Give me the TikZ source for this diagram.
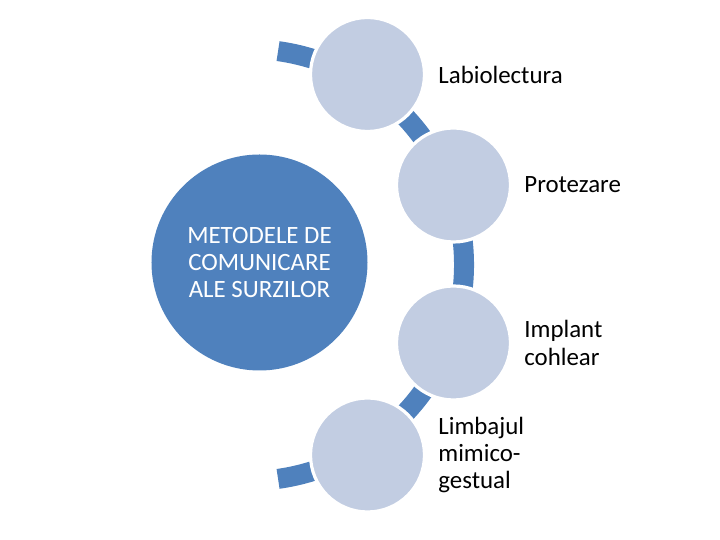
\documentclass[tikz,border=0pt]{standalone}
\usepackage{fontspec}
\setmainfont{Carlito}
\usepackage{tikz}
\usetikzlibrary{positioning, calc}
\definecolor{myblue}{RGB}{79,129,189}
\definecolor{mylight}{RGB}{194,205,226}
\tikzset{
  hubnode/.style={circle, fill=myblue, minimum size=54mm, inner sep=0pt,
    align=center, text=white, font=\fontsize{17.7}{19.4}\selectfont},
  itemnode/.style={circle, fill=mylight, draw=white, line width=0.8mm,
    minimum size=28.5mm, inner sep=0pt},
  itemlabel/.style={anchor=west, align=left, inner sep=0pt,
    text=black, font=\fontsize{17.7}{19.4}\selectfont},
  linkarc/.style={myblue, line width=5mm}
}

\begin{document}
\begin{tikzpicture}[x=0.25mm, y=0.25mm]
  \useasboundingbox (0,0) rectangle (720,540);

  % Accent arc behind the small circles
  \coordinate (hub) at (248,275);
  \draw[linkarc] (hub) ++(82:216) arc[start angle=82, end angle=-82, radius=216];

  % Central circle
  \node[hubnode] (metode) at (259.5,277.5) {METODELE DE\\COMUNICARE\\ALE SURZILOR};

  % Small circles
  \node[itemnode] (labio) at (367.5,465.5) {};
  \node[itemnode] (proteza) at (453.5,355) {};
  \node[itemnode] (implant) at (453.5,197) {};
  \node[itemnode] (mimic) at (367.5,85) {};

  % Labels
  \node[itemlabel, right=3mm of labio] (labiotxt) {Labiolectura};
  \node[itemlabel, right=3mm of proteza] (protezatxt) {Protezare};
  \node[itemlabel, right=3mm of implant] (implanttxt) {Implant\\cohlear};
  \node[itemlabel, right=3mm of mimic] (mimictxt) {Limbajul\\mimico-\\gestual};
\end{tikzpicture}
\end{document}
